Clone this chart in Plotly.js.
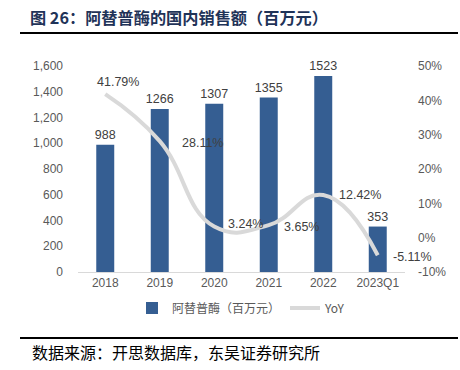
<!DOCTYPE html>
<html>
<head>
<meta charset="utf-8">
<script src="https://cdn.plot.ly/plotly-3.0.1.min.js"></script>
<style>html,body{margin:0;padding:0;background:#fff;}#chart{width:460px;height:370px;}</style>
</head>
<body>
<div id="chart"></div>
<script>
const categories = ['2018', '2019', '2020', '2021', '2022', '2023Q1'];
const sales = [988, 1266, 1307, 1355, 1523, 353];
const yoy = [41.79, 28.11, 3.24, 3.65, 12.42, -5.11];
const yoyLabels = ['41.79%', '28.11%', '3.24%', '3.65%', '12.42%', '-5.11%'];
const leftTicks = [0, 200, 400, 600, 800, 1000, 1200, 1400, 1600];
const rightTicks = [-10, 0, 10, 20, 30, 40, 50];
const rightTickLabels = ['-10%', '0%', '10%', '20%', '30%', '40%', '50%'];

const W = 460, H = 370, L = 78, R = 405, T = 66, B = 272;
const px = x => (x - L) / (R - L);
const py = y => (B - y) / (B - T);

const baseFont = 'Liberation Sans, Arial, sans-serif';
const tickFont = {family: baseFont, size: 12, color: '#595959'};
const labelFont = {family: baseFont, size: 12.5, color: '#404040'};

// label offsets (pixels) for the YoY data labels
const yoyShiftX = [13, 20, 12, 13, 14, 13];
const yoyShiftY = [12, -2, 3, -2, 0, -2];
const yoyAnchor = ['center', 'left', 'left', 'left', 'left', 'left'];

const traces = [
  {
    type: 'bar', x: categories, y: sales, name: '阿替普酶（百万元）',
    marker: {color: '#355E92'}, width: 0.33,
    text: sales.map(String), textposition: 'outside', cliponaxis: false,
    constraintext: 'none', textfont: labelFont,
    hoverinfo: 'none'
  },
  {
    type: 'scatter', mode: 'lines', x: categories, y: yoy, yaxis: 'y2', name: 'YoY',
    line: {color: '#D9D9D9', width: 4, shape: 'spline', smoothing: 1.3},
    cliponaxis: false, hoverinfo: 'none'
  }
];

const annotations = categories.map((c, i) => ({
  x: i, y: yoy[i], xref: 'x', yref: 'y2', text: yoyLabels[i], showarrow: false,
  xanchor: yoyAnchor[i], yanchor: 'middle', xshift: yoyShiftX[i], yshift: yoyShiftY[i],
  font: labelFont
}));
annotations.push({
  text: '数据来源：开思数据库，东吴证券研究所', xref: 'paper', yref: 'paper',
  x: px(30), y: py(352), xanchor: 'left', yanchor: 'middle', showarrow: false,
  font: {family: 'Noto Sans CJK SC, sans-serif', size: 16, color: '#000'}
});

const layout = {
  width: W, height: H,
  margin: {l: L, r: W - R, t: T, b: H - B, pad: 0},
  paper_bgcolor: '#fff', plot_bgcolor: '#fff',
  showlegend: true,
  title: {
    text: '<b>图 26：阿替普酶的国内销售额（百万元）</b>',
    x: 30 / W, xanchor: 'left', xref: 'container',
    y: 1 - 18 / H, yanchor: 'middle', yref: 'container',
    font: {family: 'Noto Sans CJK SC, sans-serif', size: 16.2, color: '#1F3358'}
  },
  xaxis: {
    type: 'category', categoryorder: 'array', categoryarray: categories,
    range: [-0.5, categories.length - 0.5],
    showgrid: false, zeroline: false,
    showline: true, linecolor: '#D9D9D9', linewidth: 1,
    ticks: '', tickfont: tickFont
  },
  yaxis: {
    range: [0, 1600], tickvals: leftTicks, tickformat: ',d',
    showgrid: false, zeroline: false, showline: false, ticks: '',
    tickfont: tickFont, ticklabelstandoff: 14
  },
  yaxis2: {
    overlaying: 'y', side: 'right', range: [-10, 50],
    tickmode: 'array', tickvals: rightTicks, ticktext: rightTickLabels,
    showgrid: false, zeroline: false, showline: false, ticks: '',
    tickfont: tickFont, ticklabelstandoff: 12
  },
  bargap: 0.67,
  legend: {
    orientation: 'h', x: 0.5, xanchor: 'center', y: py(308), yanchor: 'middle',
    font: {family: 'Noto Sans CJK SC, sans-serif', size: 12, color: '#595959'},
    itemwidth: 30, traceorder: 'normal'
  },
  shapes: [
    {type: 'line', xref: 'paper', yref: 'paper', x0: px(20), x1: px(458), y0: py(33), y1: py(33),
     line: {color: '#000', width: 2}},
    {type: 'line', xref: 'paper', yref: 'paper', x0: px(20), x1: px(458), y0: py(338), y1: py(338),
     line: {color: '#000', width: 2}}
  ],
  annotations: annotations
};

Plotly.newPlot('chart', traces, layout, {staticPlot: true, displayModeBar: false});
</script>
</body>
</html>
